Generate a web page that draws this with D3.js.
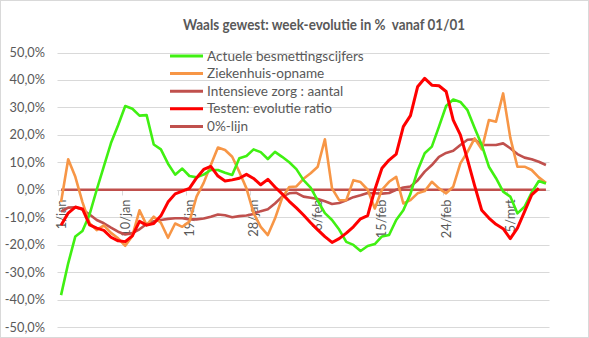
<!DOCTYPE html>
<html>
<head>
<meta charset="utf-8">
<script src="https://cdn.jsdelivr.net/npm/d3@7"></script>
<style>
  html, body { margin: 0; padding: 0; background: #fff; }
  svg { display: block; }
  text { font-family: "Lato", "Open Sans", sans-serif; }
</style>
</head>
<body>
<script>
// ---- Data ----
const dayCount = 69; // 1/jan .. 10/mrt
const tickDays = [0, 9, 18, 27, 36, 45, 54, 63];
const tickLabels = ["1/jan", "10/jan", "19/jan", "28/jan", "6/feb", "15/feb", "24/feb", "5/mrt"];
const yTicks = [-50, -40, -30, -20, -10, 0, 10, 20, 30, 40, 50];

const besmettingen = [-38.4, -26.8, -17, -15, -9, 0, 8.5, 17, 23.5, 30.5, 29.5, 27, 27.2, 16.5, 14.7, 9.5, 5.5, 7.7, 5, 4.5,
  5.5, 7.2, 7.2, 6.2, 5.4, 11.5, 12.3, 14.7, 13.7, 11.2, 13.8, 12, 10, 7.5, 3.5, 0.8, -4, -8.5, -11, -14.5,
  -19, -20.1, -22.3, -20.5, -19.8, -17, -16.5, -11, -7.5, -1.5, 7, 13.3, 15.7, 23, 30.5, 32.9, 32, 29, 22.5, 16.3,
  8.4, 4.2, -0.7, -2.5, -8.6, -6.2, -1, 3.2, 2.3];
const ziekenhuis = [-4.5, 11.1, 4.7, -4.5, -12.2, -14.7, -13, -15.7, -17.7, -20.4, -16.8, -7.5, -12.9, -9.8, -12, -17.5, -12.3, -13.5, -11.6, -2.5,
  2.5, 9, 15.4, 14.5, 12, 6.5, 0.5, -8.5, -13.5, -16.5, -10.5, -3, 1, 1.2, 4, 6, 8.4, 18.4, 0.5, -3.8,
  -3.8, 3.5, 2.8, 0, -6.8, 0, 2.9, 4.7, -5, -3.8, -1.3, -0.5, 2.9, 0.5, -1.3, 1.1, 9.6, 13.8, 18.7, 14.7,
  25.4, 24.8, 35.1, 19, 8.4, 8.4, 7.2, 4.5, 2.5];
const intensieve = [-8, -6.5, -6.4, -7.2, -9, -11, -12.2, -13.8, -15.3, -16.3, -15.8, -14.4, -12.5, -11.5, -11, -10.6, -10.4, -10.4, -10.8, -10.8,
  -10.5, -9.8, -9, -9.3, -10, -9.6, -9.4, -8.8, -7.8, -7.1, -5, -2.5, -1.3, -1.1, -2.5, -2.9, -3.4, -4.2, -5.2, -4.8,
  -3.8, -2.7, -2, -1.2, -1.3, -1.4, -1.2, 0, 0.8, 1.2, 3.4, 6.6, 9, 12, 13.4, 14.2, 16.3, 18.2, 18.4, 16.3,
  16.3, 16.3, 16.9, 15.1, 13, 11.7, 11.1, 10.2, 9];
const testen = [-12.9, -8.5, -6.3, -7, -12.8, -14, -14.8, -17.3, -18.6, -18.9, -16.8, -11.5, -12.9, -12.3, -9.5, -4.5, -1.5, -0.5, 0.5, 4.3,
  7.4, 8.5, 5, 3.2, 3.6, 4.2, 5.6, 4.1, 1.8, 3.8, 1, -1.5, -4.2, -6.6, -9.2, -12, -14.6, -17.1, -19.2, -17.8,
  -15.8, -13.5, -10.6, -9.4, 0, 7.8, 10.8, 13, 23, 27, 37.5, 40.6, 38.1, 37.9, 35.8, 25.4, 20, 11, 1.5, -7.5,
  -10.3, -12.6, -14.2, -17.8, -14, -8, -1.9, 0.5, null];
const nulLijn = [0, 0, 0, 0, 0, 0, 0, 0, 0, 0, 0, 0, 0, 0, 0, 0, 0, 0, 0, 0,
  0, 0, 0, 0, 0, 0, 0, 0, 0, 0, 0, 0, 0, 0, 0, 0, 0, 0, 0, 0,
  0, 0, 0, 0, 0, 0, 0, 0, 0, 0, 0, 0, 0, 0, 0, 0, 0, 0, 0, 0,
  0, 0, 0, 0, 0, 0, 0, 0, 0];

const seriesNames = ["Actuele besmettingscijfers", "Ziekenhuis-opname", "Intensieve zorg : aantal", "Testen: evolutie ratio", "0%-lijn"];
const seriesColors = ["#40f012", "#f79646", "#c0504d", "#ff0000", "#c0504d"];
const seriesValues = [besmettingen, ziekenhuis, intensieve, testen, nulLijn];

// ---- Chart ----
const W = 589, H = 338;
const svg = d3.select("body").append("svg").attr("width", W).attr("height", H);

svg.append("rect").attr("x", 0.5).attr("y", 0.5).attr("width", W - 1).attr("height", H - 1)
  .attr("fill", "#fff").attr("stroke", "#d9d9d9");

const x = d3.scaleBand().domain(d3.range(dayCount)).range([57.5, 549.5]);
const xc = i => x(i) + x.bandwidth() / 2;
const y = d3.scaleLinear().domain([-50, 50]).range([327, 52.5]);

// gridlines
svg.append("g").selectAll("line").data(yTicks).join("line")
  .attr("x1", 57.5).attr("x2", 549.5)
  .attr("y1", d => Math.round(y(d)) + 0.5).attr("y2", d => Math.round(y(d)) + 0.5)
  .attr("stroke", "#d9d9d9").attr("stroke-width", 1);

// y labels
svg.append("g").selectAll("text").data(yTicks).join("text")
  .attr("x", 45).attr("y", d => y(d) + 4.5)
  .attr("text-anchor", "end").attr("font-size", 12.8).attr("fill", "#595959")
  .text(d => d3.format(".1f")(d).replace(".", ",").replace("−", "-") + "%");

// x axis (at 0)
const y0 = Math.round(y(0)) + 0.5;
svg.append("line").attr("x1", 57.5).attr("x2", 549.5).attr("y1", y0).attr("y2", y0).attr("stroke", "#d9d9d9");
svg.append("g").selectAll("line").data(tickDays).join("line")
  .attr("x1", d => Math.round(x(d)) + 0.5).attr("x2", d => Math.round(x(d)) + 0.5)
  .attr("y1", y0).attr("y2", y0 + 5).attr("stroke", "#d9d9d9");
svg.append("g").selectAll("text").data(tickDays).join("text")
  .attr("transform", (d, i) => `translate(${xc(d) + 4.5},${y0 + 9}) rotate(-90)`)
  .attr("text-anchor", "end").attr("font-size", 12.8).attr("fill", "#595959")
  .text((d, i) => tickLabels[i]);

// lines
const line = d3.line().defined(d => d != null).x((d, i) => xc(i)).y(d => y(d));
const drawOrder = [4, 2, 1, 0, 3];
svg.append("g").selectAll("path").data(drawOrder).join("path")
  .attr("d", k => line(seriesValues[k]))
  .attr("fill", "none").attr("stroke", k => seriesColors[k])
  .attr("stroke-width", k => k === 3 ? 3 : 2.6)
  .attr("stroke-linejoin", "round");

// legend
const lg = svg.append("g");
seriesNames.forEach((name, i) => {
  const ly = 56 + i * 17.6;
  lg.append("line").attr("x1", 170).attr("x2", 203).attr("y1", ly).attr("y2", ly)
    .attr("stroke", seriesColors[i]).attr("stroke-width", 3);
  lg.append("text").attr("x", 207).attr("y", ly + 4.5).attr("font-size", 13.6).attr("fill", "#595959").text(name);
});

// title
svg.append("text").attr("x", 324).attr("y", 29.5).attr("text-anchor", "middle")
  .attr("font-size", 14.5).attr("font-weight", "bold").attr("fill", "#595959")
  .attr("textLength", 282).attr("lengthAdjust", "spacingAndGlyphs")
  .style("white-space", "pre")
  .text("Waals gewest: week-evolutie in %  vanaf 01/01");
</script>
</body>
</html>
